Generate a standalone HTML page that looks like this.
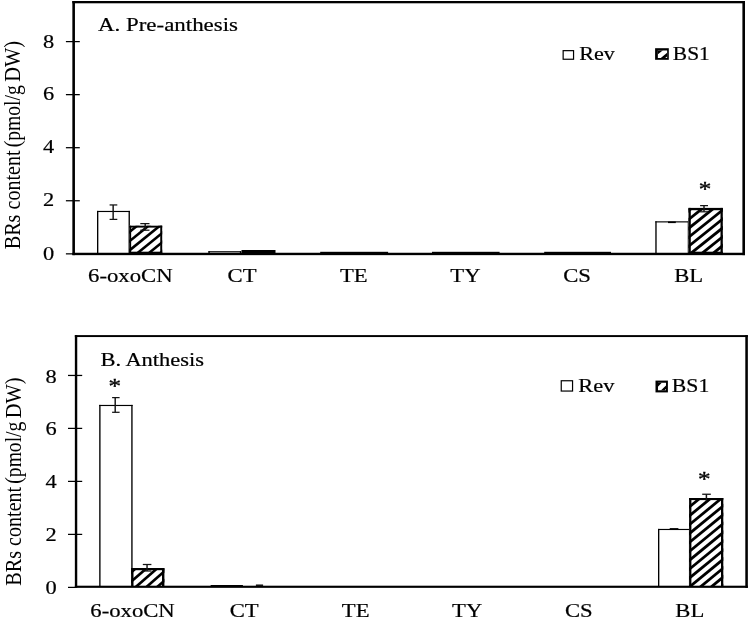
<!DOCTYPE html>
<html lang="en"><head><meta charset="utf-8"><title>BRs content</title>
<style>html,body{margin:0;padding:0;background:#fff;overflow:hidden}svg{display:block}text{font-family:"Liberation Serif",serif}</style>
</head><body>
<svg width="749" height="619" viewBox="0 0 749 619">
<rect width="749" height="619" fill="#fff"/>
<rect x="97.00" y="210.90" width="32.90" height="42.60" fill="#fff"/>
<rect x="97.00" y="210.90" width="1.35" height="42.60" fill="#000"/>
<rect x="128.55" y="210.90" width="1.35" height="42.60" fill="#000"/>
<rect x="97.00" y="210.90" width="32.90" height="1.15" fill="#000"/>
<rect x="208.40" y="251.20" width="32.80" height="2.30" fill="#fff"/>
<rect x="208.40" y="251.20" width="1.35" height="2.30" fill="#000"/>
<rect x="239.85" y="251.20" width="1.35" height="2.30" fill="#000"/>
<rect x="208.40" y="251.20" width="32.80" height="1.15" fill="#000"/>
<rect x="655.30" y="221.30" width="33.80" height="32.20" fill="#fff"/>
<rect x="655.30" y="221.30" width="1.35" height="32.20" fill="#000"/>
<rect x="687.75" y="221.30" width="1.35" height="32.20" fill="#000"/>
<rect x="655.30" y="221.30" width="33.80" height="1.15" fill="#000"/>
<clipPath id="c1"><rect x="129.20" y="225.70" width="33.00" height="28.10"/></clipPath>
<rect x="129.20" y="225.70" width="33.00" height="28.10" fill="#fff"/>
<g clip-path="url(#c1)">
<polygon points="127.20,213.78 164.20,183.81 164.20,187.11 127.20,217.08" fill="#000"/>
<polygon points="127.20,222.98 164.20,193.01 164.20,196.31 127.20,226.28" fill="#000"/>
<polygon points="127.20,232.18 164.20,202.21 164.20,205.51 127.20,235.48" fill="#000"/>
<polygon points="127.20,241.38 164.20,211.41 164.20,214.71 127.20,244.68" fill="#000"/>
<polygon points="127.20,250.58 164.20,220.61 164.20,223.91 127.20,253.88" fill="#000"/>
<polygon points="127.20,259.78 164.20,229.81 164.20,233.11 127.20,263.08" fill="#000"/>
<polygon points="127.20,268.98 164.20,239.01 164.20,242.31 127.20,272.28" fill="#000"/>
<polygon points="127.20,278.18 164.20,248.21 164.20,251.51 127.20,281.48" fill="#000"/>
<polygon points="127.20,287.38 164.20,257.41 164.20,260.71 127.20,290.68" fill="#000"/>
</g>
<rect x="129.20" y="225.70" width="1.95" height="28.10" fill="#000"/>
<rect x="160.25" y="225.70" width="1.95" height="28.10" fill="#000"/>
<rect x="129.20" y="225.70" width="33.00" height="1.90" fill="#000"/>
<rect x="129.20" y="251.70" width="33.00" height="2.10" fill="#000"/>
<clipPath id="c2"><rect x="688.50" y="207.90" width="34.30" height="45.90"/></clipPath>
<rect x="688.50" y="207.90" width="34.30" height="45.90" fill="#fff"/>
<g clip-path="url(#c2)">
<polygon points="686.50,201.60 724.80,170.96 724.80,174.56 686.50,205.20" fill="#000"/>
<polygon points="686.50,210.50 724.80,179.86 724.80,183.46 686.50,214.10" fill="#000"/>
<polygon points="686.50,219.40 724.80,188.76 724.80,192.36 686.50,223.00" fill="#000"/>
<polygon points="686.50,228.30 724.80,197.66 724.80,201.26 686.50,231.90" fill="#000"/>
<polygon points="686.50,237.20 724.80,206.56 724.80,210.16 686.50,240.80" fill="#000"/>
<polygon points="686.50,246.10 724.80,215.46 724.80,219.06 686.50,249.70" fill="#000"/>
<polygon points="686.50,255.00 724.80,224.36 724.80,227.96 686.50,258.60" fill="#000"/>
<polygon points="686.50,263.90 724.80,233.26 724.80,236.86 686.50,267.50" fill="#000"/>
<polygon points="686.50,272.80 724.80,242.16 724.80,245.76 686.50,276.40" fill="#000"/>
<polygon points="686.50,281.70 724.80,251.06 724.80,254.66 686.50,285.30" fill="#000"/>
<polygon points="686.50,290.60 724.80,259.96 724.80,263.56 686.50,294.20" fill="#000"/>
</g>
<rect x="688.50" y="207.90" width="2.30" height="45.90" fill="#000"/>
<rect x="720.50" y="207.90" width="2.30" height="45.90" fill="#000"/>
<rect x="688.50" y="207.90" width="34.30" height="2.30" fill="#000"/>
<rect x="688.50" y="251.70" width="34.30" height="2.10" fill="#000"/>
<rect x="241.50" y="250.00" width="34.00" height="3.50" fill="#000"/>
<rect x="320.20" y="251.80" width="67.90" height="1.70" fill="#000"/>
<rect x="432.00" y="251.80" width="67.60" height="1.70" fill="#000"/>
<rect x="544.20" y="251.80" width="66.80" height="1.70" fill="#000"/>
<rect x="72.35" y="1.00" width="2.60" height="254.15" fill="#000"/>
<rect x="742.40" y="1.00" width="2.60" height="254.15" fill="#000"/>
<rect x="72.35" y="1.00" width="672.65" height="2.30" fill="#000"/>
<rect x="72.35" y="252.75" width="672.65" height="2.40" fill="#000"/>
<line x1="113.15" y1="204.95" x2="113.15" y2="219.40" stroke="#141414" stroke-width="1.45"/>
<line x1="109.60" y1="204.95" x2="117.30" y2="204.95" stroke="#141414" stroke-width="1.25"/>
<line x1="109.60" y1="219.40" x2="117.30" y2="219.40" stroke="#141414" stroke-width="1.25"/>
<line x1="145.20" y1="223.60" x2="145.20" y2="230.20" stroke="#141414" stroke-width="1.45"/>
<line x1="140.30" y1="223.60" x2="149.50" y2="223.60" stroke="#141414" stroke-width="1.25"/>
<line x1="140.30" y1="230.20" x2="149.50" y2="230.20" stroke="#141414" stroke-width="1.25"/>
<line x1="704.00" y1="205.60" x2="704.00" y2="211.80" stroke="#141414" stroke-width="1.45"/>
<line x1="700.10" y1="205.60" x2="708.00" y2="205.60" stroke="#141414" stroke-width="1.25"/>
<line x1="700.10" y1="211.80" x2="708.00" y2="211.80" stroke="#141414" stroke-width="1.25"/>
<line x1="668.00" y1="222.30" x2="675.80" y2="222.30" stroke="#000" stroke-width="1.6"/>
<line x1="65.90" y1="41.60" x2="79.80" y2="41.60" stroke="#000" stroke-width="1.25"/>
<text transform="translate(54.20,47.50) scale(1.2000,1)" font-size="18.67" text-anchor="end" fill="#000" stroke="#000" stroke-width="0.2">8</text>
<line x1="65.90" y1="94.65" x2="79.80" y2="94.65" stroke="#000" stroke-width="1.25"/>
<text transform="translate(54.20,99.80) scale(1.2000,1)" font-size="18.67" text-anchor="end" fill="#000" stroke="#000" stroke-width="0.2">6</text>
<line x1="65.90" y1="147.70" x2="79.80" y2="147.70" stroke="#000" stroke-width="1.25"/>
<text transform="translate(54.20,153.10) scale(1.2000,1)" font-size="18.67" text-anchor="end" fill="#000" stroke="#000" stroke-width="0.2">4</text>
<line x1="65.90" y1="200.75" x2="79.80" y2="200.75" stroke="#000" stroke-width="1.25"/>
<text transform="translate(54.20,206.40) scale(1.2000,1)" font-size="18.67" text-anchor="end" fill="#000" stroke="#000" stroke-width="0.2">2</text>
<line x1="65.90" y1="253.85" x2="72.85" y2="253.85" stroke="#000" stroke-width="1.25"/>
<text transform="translate(54.20,259.70) scale(1.2000,1)" font-size="18.67" text-anchor="end" fill="#000" stroke="#000" stroke-width="0.2">0</text>
<text transform="translate(88.03,282.20) scale(1.2194,1)" font-size="18.67" text-anchor="start" fill="#000" stroke="#000" stroke-width="0.2">6-oxoCN</text>
<text transform="translate(242.10,282.20) scale(1.2150,1)" font-size="18.67" text-anchor="middle" fill="#000" stroke="#000" stroke-width="0.2">CT</text>
<text transform="translate(353.80,282.20) scale(1.2150,1)" font-size="18.67" text-anchor="middle" fill="#000" stroke="#000" stroke-width="0.2">TE</text>
<text transform="translate(465.40,282.20) scale(1.2150,1)" font-size="18.67" text-anchor="middle" fill="#000" stroke="#000" stroke-width="0.2">TY</text>
<text transform="translate(577.00,282.20) scale(1.2150,1)" font-size="18.67" text-anchor="middle" fill="#000" stroke="#000" stroke-width="0.2">CS</text>
<text transform="translate(688.70,282.20) scale(1.2150,1)" font-size="18.67" text-anchor="middle" fill="#000" stroke="#000" stroke-width="0.2">BL</text>
<text transform="translate(97.91,31.00) scale(1.2288,1)" font-size="18.67" text-anchor="start" fill="#000" stroke="#000" stroke-width="0.2">A. Pre-anthesis</text>
<text transform="translate(705.05,196.00) scale(1.2450,1)" font-size="20.2" text-anchor="middle" fill="#000" stroke="#000" stroke-width="0.35">*</text>
<rect x="563.15" y="50.65" width="10.40" height="8.60" fill="#fff" stroke="#000" stroke-width="1.2"/>
<text transform="translate(579.15,59.60) scale(1.1838,1)" font-size="18.67" text-anchor="start" fill="#000" stroke="#000" stroke-width="0.2">Rev</text>
<rect x="655.10" y="48.20" width="13.70" height="11.60" fill="#000"/>
<clipPath id="c3"><rect x="657.60" y="50.30" width="9.80" height="7.70"/></clipPath>
<g clip-path="url(#c3)"><rect x="657.60" y="50.30" width="9.80" height="7.70" fill="#fff"/>
<polygon points="657.60,50.30 663.00,50.30 657.60,54.60" fill="#000"/>
<polygon points="660.80,58.00 667.40,52.50 667.40,56.30 665.20,58.00" fill="#000"/>
</g>
<text transform="translate(672.82,59.70) scale(1.1491,1)" font-size="18.67" text-anchor="start" fill="#000" stroke="#000" stroke-width="0.2">BS1</text>
<text transform="translate(19.60,249.30) rotate(-90) scale(1.0800,1.2000)" font-size="18.67" fill="#000">BRs</text>
<text transform="translate(19.60,209.50) rotate(-90) scale(1.0760,1.2000)" font-size="18.67" fill="#000">content</text>
<text transform="translate(19.60,147.30) rotate(-90) scale(1.0500,1.2000)" font-size="18.67" fill="#000">(pmol/g</text>
<text transform="translate(19.60,81.80) rotate(-90) scale(1.0950,1.2000)" font-size="18.67" fill="#000">DW)</text>
<rect x="99.20" y="404.90" width="33.40" height="181.60" fill="#fff"/>
<rect x="99.20" y="404.90" width="1.35" height="181.60" fill="#000"/>
<rect x="131.25" y="404.90" width="1.35" height="181.60" fill="#000"/>
<rect x="99.20" y="404.90" width="33.40" height="1.15" fill="#000"/>
<rect x="210.80" y="585.00" width="31.90" height="1.50" fill="#fff"/>
<rect x="210.80" y="585.00" width="1.35" height="1.50" fill="#000"/>
<rect x="241.35" y="585.00" width="1.35" height="1.50" fill="#000"/>
<rect x="210.80" y="585.00" width="31.90" height="1.15" fill="#000"/>
<rect x="658.00" y="528.90" width="32.30" height="57.60" fill="#fff"/>
<rect x="658.00" y="528.90" width="1.35" height="57.60" fill="#000"/>
<rect x="688.95" y="528.90" width="1.35" height="57.60" fill="#000"/>
<rect x="658.00" y="528.90" width="32.30" height="1.15" fill="#000"/>
<clipPath id="c4"><rect x="131.10" y="568.00" width="33.30" height="19.00"/></clipPath>
<rect x="131.10" y="568.00" width="33.30" height="19.00" fill="#fff"/>
<g clip-path="url(#c4)">
<polygon points="129.10,563.13 166.40,530.68 166.40,534.18 129.10,566.63" fill="#000"/>
<polygon points="129.10,572.43 166.40,539.98 166.40,543.48 129.10,575.93" fill="#000"/>
<polygon points="129.10,581.73 166.40,549.28 166.40,552.78 129.10,585.23" fill="#000"/>
<polygon points="129.10,591.03 166.40,558.58 166.40,562.08 129.10,594.53" fill="#000"/>
<polygon points="129.10,600.33 166.40,567.88 166.40,571.38 129.10,603.83" fill="#000"/>
<polygon points="129.10,609.63 166.40,577.18 166.40,580.68 129.10,613.13" fill="#000"/>
<polygon points="129.10,618.93 166.40,586.48 166.40,589.98 129.10,622.43" fill="#000"/>
<polygon points="129.10,628.23 166.40,595.78 166.40,599.28 129.10,631.73" fill="#000"/>
</g>
<rect x="131.10" y="568.00" width="2.40" height="19.00" fill="#000"/>
<rect x="162.00" y="568.00" width="2.40" height="19.00" fill="#000"/>
<rect x="131.10" y="568.00" width="33.30" height="2.20" fill="#000"/>
<rect x="131.10" y="586.10" width="33.30" height="0.90" fill="#000"/>
<clipPath id="c5"><rect x="689.10" y="498.00" width="34.20" height="89.00"/></clipPath>
<rect x="689.10" y="498.00" width="34.20" height="89.00" fill="#fff"/>
<g clip-path="url(#c5)">
<polygon points="687.10,489.18 725.30,457.85 725.30,461.45 687.10,492.78" fill="#000"/>
<polygon points="687.10,498.08 725.30,466.75 725.30,470.35 687.10,501.68" fill="#000"/>
<polygon points="687.10,506.98 725.30,475.65 725.30,479.25 687.10,510.58" fill="#000"/>
<polygon points="687.10,515.88 725.30,484.55 725.30,488.15 687.10,519.48" fill="#000"/>
<polygon points="687.10,524.78 725.30,493.45 725.30,497.05 687.10,528.38" fill="#000"/>
<polygon points="687.10,533.68 725.30,502.35 725.30,505.95 687.10,537.28" fill="#000"/>
<polygon points="687.10,542.58 725.30,511.25 725.30,514.85 687.10,546.18" fill="#000"/>
<polygon points="687.10,551.48 725.30,520.15 725.30,523.75 687.10,555.08" fill="#000"/>
<polygon points="687.10,560.38 725.30,529.05 725.30,532.65 687.10,563.98" fill="#000"/>
<polygon points="687.10,569.28 725.30,537.95 725.30,541.55 687.10,572.88" fill="#000"/>
<polygon points="687.10,578.18 725.30,546.85 725.30,550.45 687.10,581.78" fill="#000"/>
<polygon points="687.10,587.08 725.30,555.75 725.30,559.35 687.10,590.68" fill="#000"/>
<polygon points="687.10,595.98 725.30,564.65 725.30,568.25 687.10,599.58" fill="#000"/>
<polygon points="687.10,604.88 725.30,573.55 725.30,577.15 687.10,608.48" fill="#000"/>
<polygon points="687.10,613.78 725.30,582.45 725.30,586.05 687.10,617.38" fill="#000"/>
<polygon points="687.10,622.68 725.30,591.35 725.30,594.95 687.10,626.28" fill="#000"/>
</g>
<rect x="689.10" y="498.00" width="2.30" height="89.00" fill="#000"/>
<rect x="721.00" y="498.00" width="2.30" height="89.00" fill="#000"/>
<rect x="689.10" y="498.00" width="34.20" height="2.10" fill="#000"/>
<rect x="689.10" y="586.10" width="34.20" height="0.90" fill="#000"/>
<rect x="74.85" y="335.10" width="2.40" height="252.75" fill="#000"/>
<rect x="745.30" y="335.10" width="2.55" height="252.75" fill="#000"/>
<rect x="74.85" y="335.10" width="673.00" height="1.95" fill="#000"/>
<rect x="74.85" y="585.70" width="673.00" height="2.15" fill="#000"/>
<line x1="115.20" y1="397.60" x2="115.20" y2="412.30" stroke="#141414" stroke-width="1.45"/>
<line x1="112.10" y1="397.60" x2="119.60" y2="397.60" stroke="#141414" stroke-width="1.25"/>
<line x1="112.10" y1="412.30" x2="119.60" y2="412.30" stroke="#141414" stroke-width="1.25"/>
<line x1="147.05" y1="564.50" x2="147.05" y2="571.00" stroke="#141414" stroke-width="1.45"/>
<line x1="142.80" y1="564.50" x2="151.40" y2="564.50" stroke="#141414" stroke-width="1.25"/>
<line x1="142.80" y1="571.00" x2="151.40" y2="571.00" stroke="#141414" stroke-width="1.25"/>
<line x1="706.40" y1="494.25" x2="706.40" y2="501.50" stroke="#141414" stroke-width="1.5"/>
<line x1="702.20" y1="494.25" x2="710.80" y2="494.25" stroke="#141414" stroke-width="1.3"/>
<line x1="669.70" y1="529.00" x2="678.40" y2="529.00" stroke="#000" stroke-width="1.8"/>
<line x1="255.90" y1="585.20" x2="263.10" y2="585.20" stroke="#000" stroke-width="1.4"/>
<line x1="68.00" y1="375.45" x2="82.20" y2="375.45" stroke="#000" stroke-width="1.25"/>
<text transform="translate(56.80,382.80) scale(1.2000,1)" font-size="18.67" text-anchor="end" fill="#000" stroke="#000" stroke-width="0.2">8</text>
<line x1="68.00" y1="428.40" x2="82.20" y2="428.40" stroke="#000" stroke-width="1.25"/>
<text transform="translate(56.80,434.90) scale(1.2000,1)" font-size="18.67" text-anchor="end" fill="#000" stroke="#000" stroke-width="0.2">6</text>
<line x1="68.00" y1="481.40" x2="82.20" y2="481.40" stroke="#000" stroke-width="1.25"/>
<text transform="translate(56.80,487.80) scale(1.2000,1)" font-size="18.67" text-anchor="end" fill="#000" stroke="#000" stroke-width="0.2">4</text>
<line x1="68.00" y1="534.40" x2="82.20" y2="534.40" stroke="#000" stroke-width="1.25"/>
<text transform="translate(56.80,540.90) scale(1.2000,1)" font-size="18.67" text-anchor="end" fill="#000" stroke="#000" stroke-width="0.2">2</text>
<line x1="68.00" y1="587.40" x2="75.35" y2="587.40" stroke="#000" stroke-width="1.25"/>
<text transform="translate(56.80,593.50) scale(1.2000,1)" font-size="18.67" text-anchor="end" fill="#000" stroke="#000" stroke-width="0.2">0</text>
<text transform="translate(90.30,616.80) scale(1.2163,1)" font-size="18.67" text-anchor="start" fill="#000" stroke="#000" stroke-width="0.2">6-oxoCN</text>
<text transform="translate(244.20,616.80) scale(1.2150,1)" font-size="18.67" text-anchor="middle" fill="#000" stroke="#000" stroke-width="0.2">CT</text>
<text transform="translate(355.70,616.80) scale(1.2150,1)" font-size="18.67" text-anchor="middle" fill="#000" stroke="#000" stroke-width="0.2">TE</text>
<text transform="translate(467.20,616.80) scale(1.2150,1)" font-size="18.67" text-anchor="middle" fill="#000" stroke="#000" stroke-width="0.2">TY</text>
<text transform="translate(578.80,616.80) scale(1.2150,1)" font-size="18.67" text-anchor="middle" fill="#000" stroke="#000" stroke-width="0.2">CS</text>
<text transform="translate(689.80,616.80) scale(1.2150,1)" font-size="18.67" text-anchor="middle" fill="#000" stroke="#000" stroke-width="0.2">BL</text>
<text transform="translate(100.44,365.80) scale(1.2034,1)" font-size="18.67" text-anchor="start" fill="#000" stroke="#000" stroke-width="0.2">B. Anthesis</text>
<text transform="translate(114.75,392.60) scale(1.2450,1)" font-size="20.2" text-anchor="middle" fill="#000" stroke="#000" stroke-width="0.35">*</text>
<text transform="translate(704.30,485.60) scale(1.2450,1)" font-size="20.2" text-anchor="middle" fill="#000" stroke="#000" stroke-width="0.35">*</text>
<rect x="561.25" y="380.75" width="11.30" height="10.30" fill="#fff" stroke="#000" stroke-width="1.2"/>
<text transform="translate(578.29,392.40) scale(1.2003,1)" font-size="18.67" text-anchor="start" fill="#000" stroke="#000" stroke-width="0.2">Rev</text>
<rect x="655.50" y="380.60" width="12.40" height="11.80" fill="#000"/>
<clipPath id="c6"><rect x="657.90" y="382.50" width="8.10" height="8.00"/></clipPath>
<g clip-path="url(#c6)"><rect x="657.90" y="382.50" width="8.10" height="8.00" fill="#fff"/>
<polygon points="657.90,382.50 662.00,382.50 657.90,386.80" fill="#000"/>
<polygon points="660.80,390.50 666.00,385.50 666.00,388.80 664.50,390.50" fill="#000"/>
</g>
<text transform="translate(671.86,392.40) scale(1.1651,1)" font-size="18.67" text-anchor="start" fill="#000" stroke="#000" stroke-width="0.2">BS1</text>
<text transform="translate(20.80,585.70) rotate(-90) scale(1.0800,1.2000)" font-size="18.67" fill="#000">BRs</text>
<text transform="translate(20.80,545.90) rotate(-90) scale(1.0760,1.2000)" font-size="18.67" fill="#000">content</text>
<text transform="translate(20.80,483.70) rotate(-90) scale(1.0500,1.2000)" font-size="18.67" fill="#000">(pmol/g</text>
<text transform="translate(20.80,418.30) rotate(-90) scale(1.0950,1.2000)" font-size="18.67" fill="#000">DW)</text>
</svg>
</body></html>
